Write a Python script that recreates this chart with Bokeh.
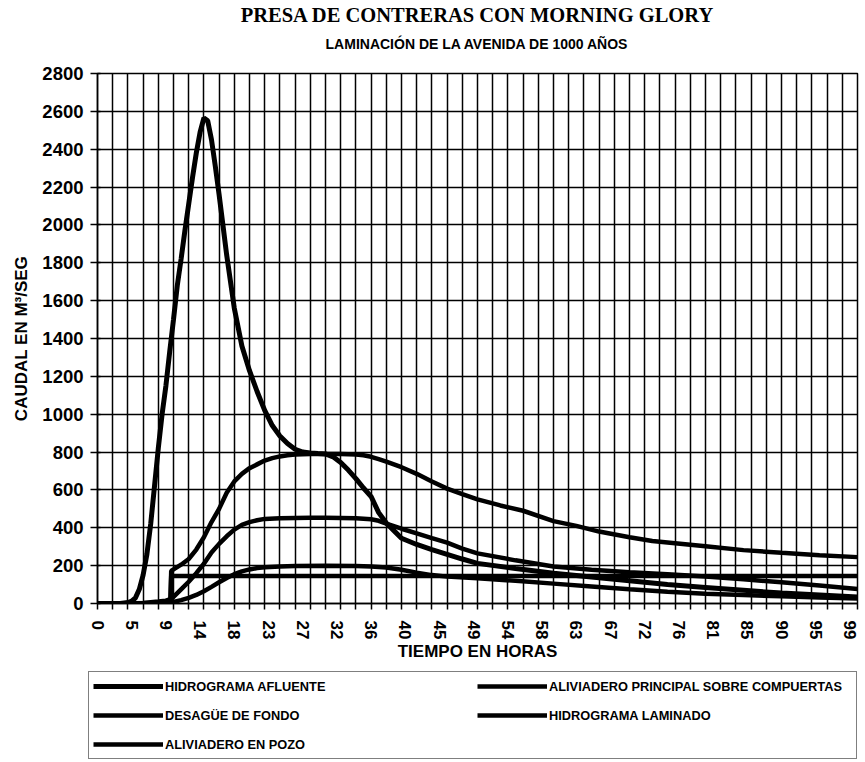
from bokeh.plotting import figure
from bokeh.models import Range1d, FixedTicker, Title, Legend, LegendItem
from bokeh.layouts import column
from bokeh.embed import file_html
from bokeh.resources import INLINE

# ---- data ----
x_tick_pos = [0, 4.5, 9, 13.5, 18, 22.5, 27, 31.5, 36, 40.5, 45, 49.5, 54, 58.5,
              63, 67.5, 72, 76.5, 81, 85.5, 90, 94.5, 99]
x_tick_lab = ["0", "5", "9", "14", "18", "23", "27", "32", "36", "40", "45", "49",
              "54", "58", "63", "67", "72", "76", "81", "85", "90", "95", "99"]
x_grid = list(range(0, 101, 2))
y_ticks = list(range(0, 2801, 200))

t_afluente = [0, 3, 4, 4.5, 5, 5.5, 6, 6.5, 7, 7.5, 8, 8.5, 9, 9.5, 10, 10.5, 11,
              11.5, 12, 12.5, 13, 13.5, 14, 14.5, 15, 15.5, 16, 16.5, 17, 17.5, 18,
              19, 20, 21, 22, 23, 24, 25, 26, 27, 28, 29, 30, 31, 32, 33, 34, 35,
              36, 37, 38, 39, 40, 42, 44, 46, 48, 50, 55, 60, 65, 70, 75, 80, 85,
              90, 95, 100]
q_afluente = [0, 0, 5, 12, 30, 75, 150, 260, 420, 620, 820, 1000, 1150, 1330, 1500,
              1680, 1820, 1970, 2110, 2250, 2380, 2490, 2565, 2550, 2450, 2310, 2160,
              2000, 1840, 1700, 1560, 1360, 1230, 1120, 1020, 940, 885, 845, 815, 800,
              795, 792, 790, 775, 745, 705, 660, 610, 565, 480, 425, 385, 345, 312,
              285, 260, 235, 212, 185, 160, 140, 120, 100, 85, 70, 55, 45, 35]

t_principal = [0, 9, 10, 11, 12, 13, 14, 15, 16, 17, 18, 19, 20, 21, 22, 24, 26, 28,
               30, 32, 34, 36, 37, 38, 40, 42, 44, 46, 48, 50, 55, 60, 65, 70, 75,
               80, 85, 90, 95, 100]
q_principal = [0, 3, 35, 75, 115, 160, 210, 270, 315, 355, 390, 415, 430, 440, 447,
               450, 452, 453, 453, 452, 450, 445, 437, 422, 395, 370, 345, 322, 290,
               265, 228, 195, 178, 165, 155, 143, 128, 112, 95, 77]

t_desague = [0, 9.6, 9.7, 100]
q_desague = [0, 0, 145, 145]

t_laminado = [0, 4, 6, 8, 9, 9.5, 9.6, 9.7, 10, 11, 12, 13, 14, 15, 16, 17, 18, 19,
              20, 21, 22, 23, 24, 25, 26, 28, 30, 32, 34, 35, 36, 37, 38, 40, 42, 44,
              46, 48, 50, 53, 56, 60, 63, 66, 70, 73, 76, 80, 85, 90, 95, 100]
q_laminado = [0, 0, 3, 10, 15, 22, 25, 172, 180, 205, 235, 285, 350, 430, 500, 585,
              645, 685, 715, 735, 755, 768, 777, 783, 787, 790, 790, 790, 787, 783,
              775, 763, 750, 720, 685, 645, 607, 578, 550, 518, 490, 435, 410, 380,
              350, 330, 318, 302, 282, 268, 255, 245]

t_pozo = [0, 9, 10, 11, 12, 13, 14, 15, 16, 17, 18, 19, 20, 21, 22, 24, 26, 30, 34,
          36, 38, 40, 42, 44, 46, 50, 55, 60, 65, 70, 75, 80, 85, 90, 95, 100]
q_pozo = [0, 2, 8, 18, 30, 45, 65, 88, 112, 135, 155, 170, 180, 187, 192, 196, 198,
          199, 198, 196, 190, 178, 163, 150, 142, 133, 120, 105, 90, 75, 62, 52, 45,
          38, 32, 27]

series_names = ["HIDROGRAMA AFLUENTE", "ALIVIADERO PRINCIPAL SOBRE COMPUERTAS",
                "DESAGÜE DE FONDO", "HIDROGRAMA LAMINADO", "ALIVIADERO EN POZO"]
series_t = [t_afluente, t_principal, t_desague, t_laminado, t_pozo]
series_q = [q_afluente, q_principal, q_desague, q_laminado, q_pozo]
series_w = [5, 4.5, 4.5, 4.5, 4.5]

FONT = "Liberation Sans"

p = figure(frame_width=760, frame_height=530, x_range=Range1d(0, 100),
           y_range=Range1d(0, 2800),
           output_backend="svg", toolbar_location=None, title_location=None,
           min_border_left=97, min_border_right=8, min_border_top=73,
           min_border_bottom=65, background_fill_color="white",
           border_fill_color="white")

sub = Title(text="LAMINACIÓN DE LA AVENIDA DE 1000 AÑOS", align="center",
            text_font=FONT, text_font_size="14px", text_font_style="bold",
            text_color="black", standoff=44)
main = Title(text="PRESA DE CONTRERAS CON MORNING GLORY", align="center",
             text_font="Liberation Serif", text_font_size="20.5px",
             text_font_style="bold", text_color="black", standoff=-29)
p.add_layout(sub, "above")
p.add_layout(main, "above")

# frame
p.outline_line_color = "black"
p.outline_line_width = 1.5

# grids
p.xgrid.ticker = FixedTicker(ticks=x_grid)
p.xgrid.grid_line_color = "black"
p.xgrid.grid_line_width = 1.5
p.ygrid.ticker = FixedTicker(ticks=y_ticks)
p.ygrid.grid_line_color = "black"
p.ygrid.grid_line_width = 1.5

# x axis
xa = p.xaxis[0]
xa.ticker = FixedTicker(ticks=x_tick_pos, minor_ticks=x_grid)
xa.major_label_overrides = {v: s for v, s in zip(x_tick_pos, x_tick_lab)}
xa.major_label_orientation = "vertical"
xa.major_tick_in = 0
xa.major_tick_out = 0
xa.minor_tick_in = 0
xa.minor_tick_out = 6
xa.minor_tick_line_color = "black"
xa.minor_tick_line_width = 1.5
xa.axis_line_color = "black"
xa.axis_line_width = 1.5
xa.major_label_text_font = FONT
xa.major_label_text_font_size = "17px"
xa.major_label_text_font_style = "bold"
xa.major_label_text_color = "black"
xa.major_label_standoff = 11
xa.axis_label = "TIEMPO EN HORAS"
xa.axis_label_text_font = FONT
xa.axis_label_text_font_size = "17px"
xa.axis_label_text_font_style = "bold"
xa.axis_label_text_color = "black"
xa.axis_label_standoff = 0

# y axis
ya = p.yaxis[0]
ya.ticker = FixedTicker(ticks=y_ticks, minor_ticks=[])
ya.major_tick_in = 3
ya.major_tick_out = 7
ya.major_tick_line_color = "black"
ya.major_tick_line_width = 1.5
ya.axis_line_color = "black"
ya.axis_line_width = 1.5
ya.major_label_text_font = FONT
ya.major_label_text_font_size = "18.5px"
ya.major_label_text_font_style = "bold"
ya.major_label_text_color = "black"
ya.major_label_standoff = 7
ya.axis_label = "CAUDAL EN M³/SEG"
ya.axis_label_text_font = FONT
ya.axis_label_text_font_size = "17px"
ya.axis_label_text_font_style = "bold"
ya.axis_label_text_color = "black"
ya.axis_label_standoff = 8

for t, q, w in zip(series_t, series_q, series_w):
    p.line(t, q, line_color="black", line_width=w)

# ---- legend panel (separate figure below the chart) ----
pl = figure(width=865, height=94, x_range=Range1d(-2, -1), y_range=Range1d(0, 1),
            output_backend="svg", toolbar_location=None, title_location=None,
            x_axis_location=None, y_axis_location=None,
            min_border_left=0, min_border_right=0, min_border_top=0,
            min_border_bottom=0, background_fill_color="white",
            border_fill_color="white")
pl.outline_line_color = None
pl.xgrid.visible = False
pl.ygrid.visible = False
leg_renderers = [pl.line(t, q, line_color="black", line_width=w)
                 for t, q, w in zip(series_t, series_q, series_w)]

items = [LegendItem(label=n, renderers=[r]) for n, r in zip(series_names, leg_renderers)]
legend = Legend(items=items, orientation="horizontal", ncols=2,
                label_text_font=FONT, label_text_font_size="12.8px",
                label_text_font_style="bold", label_text_color="black",
                glyph_width=70, glyph_height=20, label_height=20,
                label_width=303, label_standoff=2, spacing=9, padding=4,
                margin=0, border_line_color="black", border_line_width=1.5,
                location=(88, 3))
pl.add_layout(legend, "center")

layout = column(p, column(pl), spacing=0)
open("out.html", "w").write(file_html(layout, INLINE))
